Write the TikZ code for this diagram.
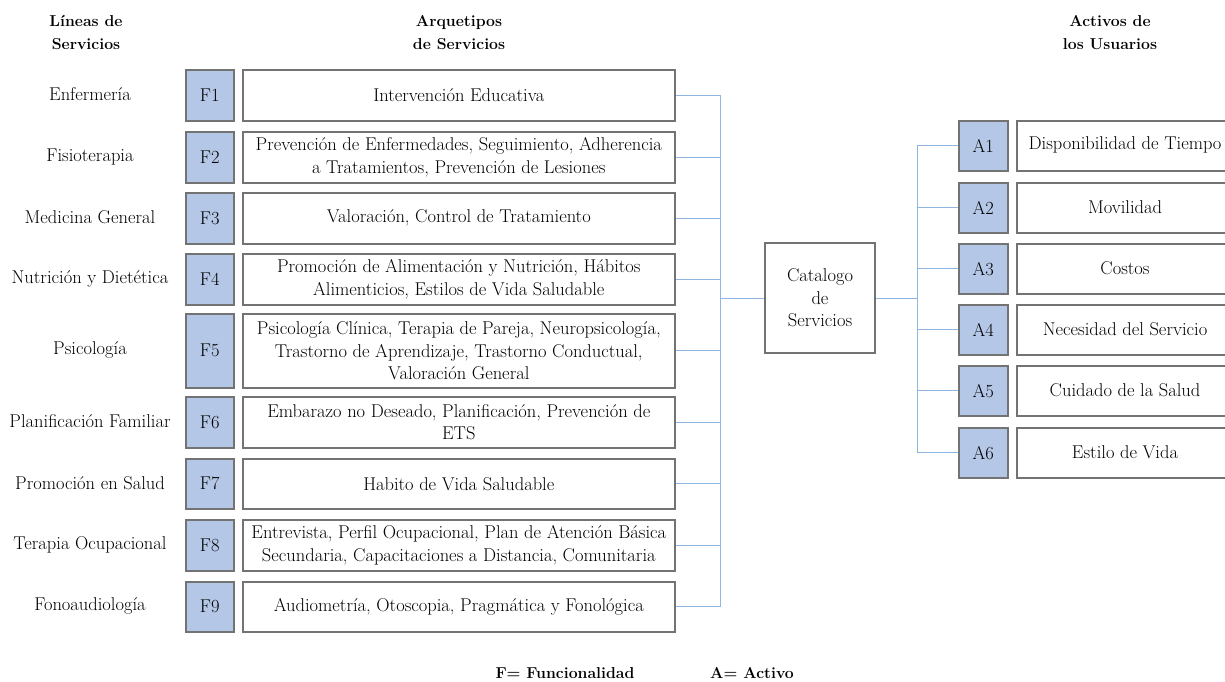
\documentclass[tikz,border=0pt]{standalone}
\usepackage{fontspec}
\begin{document}
\begin{tikzpicture}[x=1pt,y=-1pt,
  every node/.style={font=\rmfamily\fontsize{18.5}{22.5}\selectfont, align=center, inner sep=0pt},
  codebox/.style={draw=black!55, line width=1.6pt, fill=fbox, minimum width=48pt, anchor=north west},
  descbox/.style={draw=black!55, line width=1.6pt, fill=white, anchor=north west},
  head/.style={font=\rmfamily\fontsize{15.8}{23}\selectfont\bfseries},
  link/.style={draw=linkblue, line width=1pt}]
\definecolor{fbox}{RGB}{180,199,231}
\definecolor{linkblue}{RGB}{143,182,227}
\useasboundingbox (0,0) rectangle (1225,681);

% column headings
\node[head] (h1) at (86,33) {Líneas de\\Servicios};
\node[head] (h2) at (459,33) {Arquetipos\\de Servicios};
\node[head] (h3) at (1110,33) {Activos de\\los Usuarios};

% service lines: label, code, description
\foreach \i/\top/\h/\lab/\txt in {
  1/69/51/{Enfermería}/{Intervención Educativa},
  2/131/51/{Fisioterapia}/{Prevención de Enfermedades, Seguimiento, Adherencia\\a Tratamientos, Prevención de Lesiones},
  3/192/51/{Medicina General}/{Valoración, Control de Tratamiento},
  4/253/51/{Nutrición y Dietética}/{Promoción de Alimentación y Nutrición, Hábitos\\Alimenticios, Estilos de Vida Saludable},
  5/313/74/{Psicología}/{Psicología Clínica, Terapia de Pareja, Neuropsicología,\\Trastorno de Aprendizaje, Trastorno Conductual,\\Valoración General},
  6/396/51/{Planificación Familiar}/{Embarazo no Deseado, Planificación, Prevención de\\ETS},
  7/458/50/{Promoción en Salud}/{Habito de Vida Saludable},
  8/519/51/{Terapia Ocupacional}/{Entrevista, Perfil Ocupacional, Plan de Atención Básica\\Secundaria, Capacitaciones a Distancia, Comunitaria},
  9/581/50/{Fonoaudiología}/{Audiometría, Otoscopia, Pragmática y Fonológica}} {
  \node[codebox, minimum height=\h pt] (f\i) at (185,\top) {F\i};
  \node[descbox, minimum height=\h pt, minimum width=432pt] (d\i) at (242,\top) {};
  \node (t\i) at (d\i.center) {\txt};
  \node (l\i) at (90,\top+\h/2) {\lab};
}

% catalogue
\node[draw=black!55, line width=1.6pt, fill=white, minimum width=110pt, minimum height=110pt] (cat) at (820,298) {Catalogo\\de\\Servicios};

% user assets
\foreach \i/\top/\txt in {
  1/120/{Disponibilidad de Tiempo},
  2/182/{Movilidad},
  3/243/{Costos},
  4/304/{Necesidad del Servicio},
  5/365/{Cuidado de la Salud},
  6/427/{Estilo de Vida}} {
  \node[codebox, minimum width=49pt, minimum height=50pt] (a\i) at (958,\top) {A\i};
  \node[descbox, minimum width=215pt, minimum height=50pt] (b\i) at (1016,\top) {};
  \node (c\i) at (1125,\top+25) {\txt};
}

% left bracket
\coordinate (lb) at (720,0);
\foreach \i in {1,...,9} {
  \draw[link] (d\i.east) -- (d\i.east -| lb);
}
\draw[link] (d1.east -| lb) -- (d9.east -| lb);
\draw[link] (cat.west -| lb) -- (cat.west);

% right bracket
\coordinate (rb) at (917,0);
\draw[link] (cat.east) -- (cat.east -| rb);
\draw[link] (a1.west -| rb) -- (a6.west -| rb);
\foreach \i in {1,...,6} {
  \draw[link] (a\i.west -| rb) -- (a\i.west);
}

% legend
\node[head] (k1) at (565,673) {F= Funcionalidad};
\node[head] (k2) at (752,673) {A= Activo};
\end{tikzpicture}
\end{document}
